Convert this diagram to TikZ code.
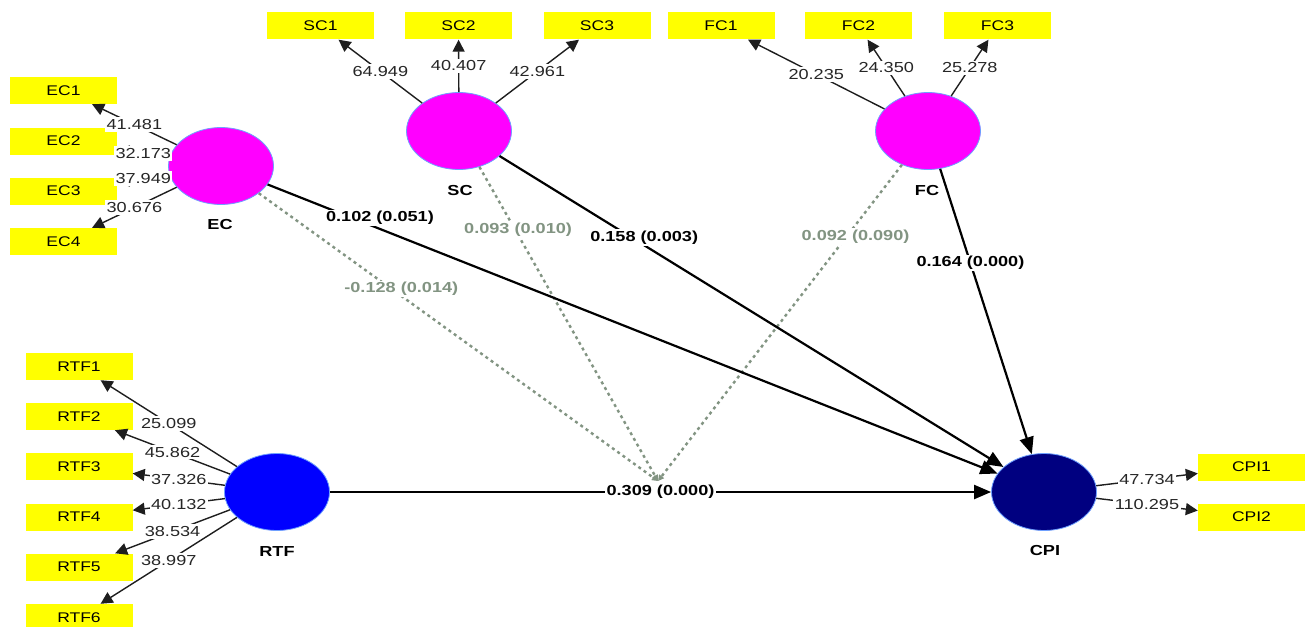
\documentclass[tikz,border=0pt]{standalone}
\usepackage{fontspec}
\setmainfont{Liberation Sans}
\newfontfamily\plsfont[FakeStretch=1.25]{Liberation Sans}
\usetikzlibrary{arrows.meta,shapes.geometric}

\definecolor{indyellow}{RGB}{255,255,0}
\definecolor{lvmagenta}{RGB}{255,0,255}
\definecolor{lvblue}{RGB}{0,0,255}
\definecolor{lvnavy}{RGB}{0,0,128}
\definecolor{lvrim}{RGB}{110,160,255}
\definecolor{modgray}{RGB}{130,148,130}
\definecolor{loadline}{RGB}{30,30,30}

\tikzset{
  indicator/.style={fill=indyellow, minimum width=107pt, minimum height=27pt,
    inner sep=0pt, font=\plsfont\fontsize{14}{16}\selectfont},
  latent/.style={ellipse, draw=lvrim, line width=0.8pt, minimum width=105pt,
    minimum height=77pt, inner sep=0pt},
  lvname/.style={font=\plsfont\bfseries\fontsize{14.5}{16}\selectfont},
  loading/.style={draw=loadline, line width=1.4pt, -{Triangle[length=12pt,width=12pt]}},
  loadval/.style={fill=white, inner xsep=1.5pt, inner ysep=2.2pt, text=black!85,
    font=\plsfont\fontsize{14.5}{16}\selectfont},
  structural/.style={draw=black, line width=2.2pt, -{Triangle[length=17pt,width=14pt]}},
  pathval/.style={fill=white, inner sep=1.5pt,
    font=\plsfont\bfseries\fontsize{14.5}{16}\selectfont},
  moderation/.style={draw=modgray, line width=2.4pt, dash pattern=on 3pt off 3.5pt,
    -{Triangle[length=6pt,width=6pt]}},
  modval/.style={pathval, text=modgray},
}

\begin{document}
\begin{tikzpicture}[x=1pt, y=-1pt]
\useasboundingbox (0,0) rectangle (1308,626);

% latent variables
\node[latent, fill=lvmagenta] (ec)  at (221,166) {};
\node[latent, fill=lvmagenta] (sc)  at (459,131) {};
\node[latent, fill=lvmagenta] (fc)  at (928,131) {};
\node[latent, fill=lvblue]    (rtf) at (277,492) {};
\node[latent, fill=lvnavy]    (cpi) at (1044,492) {};

\node[lvname] (ecname)  at (220,225)  {EC};
\node[lvname] (scname)  at (460,191)  {SC};
\node[lvname] (fcname)  at (927,191)  {FC};
\node[lvname] (rtfname) at (277,552)  {RTF};
\node[lvname] (cpiname) at (1045,551) {CPI};

% indicators
\node[indicator] (ec1) at (63.5,90.5)  {EC1};
\node[indicator] (ec2) at (63.5,141)   {EC2};
\node[indicator] (ec3) at (63.5,191)   {EC3};
\node[indicator] (ec4) at (63.5,241.5) {EC4};

\node[indicator] (sc1) at (320.5,26) {SC1};
\node[indicator] (sc2) at (458.5,26) {SC2};
\node[indicator] (sc3) at (597,26)   {SC3};

\node[indicator] (fc1) at (721,26)   {FC1};
\node[indicator] (fc2) at (858.5,26) {FC2};
\node[indicator] (fc3) at (997.5,26) {FC3};

\node[indicator] (rtf1) at (79,366.5) {RTF1};
\node[indicator] (rtf2) at (79,416.5) {RTF2};
\node[indicator] (rtf3) at (79,466.5) {RTF3};
\node[indicator] (rtf4) at (79,517)   {RTF4};
\node[indicator] (rtf5) at (79,567)   {RTF5};
\node[indicator] (rtf6) at (79,617.5) {RTF6};

\node[indicator] (cpi1) at (1251.5,467) {CPI1};
\node[indicator] (cpi2) at (1251.5,517) {CPI2};

% outer loadings
\draw[loading] (ec) -- node[loadval] {41.481} (ec1);
\draw[loading] (ec) -- node[loadval] {32.173} (ec2);
\draw[loading] (ec) -- node[loadval] {37.949} (ec3);
\draw[loading] (ec) -- node[loadval] {30.676} (ec4);

\draw[loading] (sc) -- node[loadval] {64.949} (sc1);
\draw[loading] (sc) -- node[loadval] {40.407} (sc2);
\draw[loading] (sc) -- node[loadval] {42.961} (sc3);

\draw[loading] (fc) -- node[loadval] {20.235} (fc1);
\draw[loading] (fc) -- node[loadval] {24.350} (fc2);
\draw[loading] (fc) -- node[loadval] {25.278} (fc3);

\draw[loading] (rtf) -- node[loadval] {25.099} (rtf1);
\draw[loading] (rtf) -- node[loadval] {45.862} (rtf2);
\draw[loading] (rtf) -- node[loadval] {37.326} (rtf3);
\draw[loading] (rtf) -- node[loadval] {40.132} (rtf4);
\draw[loading] (rtf) -- node[loadval] {38.534} (rtf5);
\draw[loading] (rtf) -- node[loadval] {38.997} (rtf6);

\draw[loading] (cpi) -- node[loadval] {47.734} (cpi1);
\draw[loading] (cpi) -- node[loadval] {110.295} (cpi2);

% moderating effects on the RTF -> CPI path
\coordinate (modpt) at (658,481);
\draw[moderation] (ec) -- node[modval, pos=0.357, yshift=7pt] {-0.128 (0.014)} (modpt);
\draw[moderation] (sc) -- node[modval, pos=0.2, xshift=3pt] {0.093 (0.010)} (modpt);
\draw[moderation] (fc) -- node[modval, pos=0.227, xshift=9pt] {0.092 (0.090)} (modpt);

% structural paths
\draw[structural] (ec)  -- node[pathval, pos=0.154, yshift=11pt] {0.102 (0.051)} (cpi);
\draw[structural] (sc)  -- node[pathval, pos=0.287, yshift=8pt] {0.158 (0.003)} (cpi);
\draw[structural] (fc)  -- node[pathval, pos=0.33] {0.164 (0.000)} (cpi);
\draw[structural] (rtf) -- node[pathval] {0.309 (0.000)} (cpi);
\end{tikzpicture}
\end{document}
